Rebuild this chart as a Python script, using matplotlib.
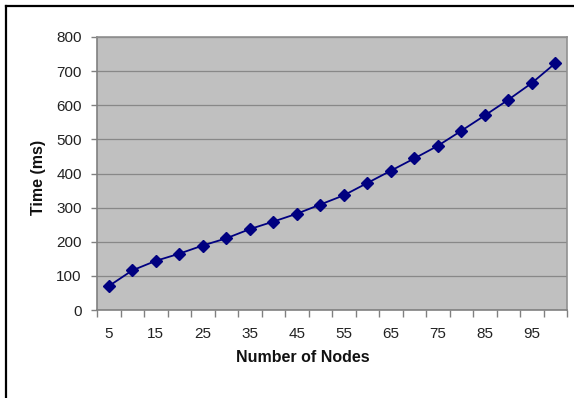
import numpy as np
import matplotlib.pyplot as plt
from matplotlib.lines import Line2D

plt.rcParams['font.family'] = ['Liberation Sans', 'DejaVu Sans']

nodes = [5, 10, 15, 20, 25, 30, 35, 40, 45, 50, 55, 60, 65, 70, 75, 80, 85, 90, 95, 100]
time_ms = [70, 116, 144, 165, 189, 210, 237, 259, 282, 309, 336, 372, 408, 444, 481,
           525, 570, 616, 665, 723]
y_ticks = [0, 100, 200, 300, 400, 500, 600, 700, 800]

W, H = 574, 398
fig = plt.figure(figsize=(W / 100, H / 100), dpi=100)
ax = fig.add_axes([97 / W, 1 - 310 / H, (567 - 97) / W, (310 - 37) / H])

pos = np.arange(len(nodes))
ax.set_facecolor('#c0c0c0')
ax.plot(pos, time_ms, color='#000080', linewidth=1.3, marker='D', markersize=6,
        markerfacecolor='#000080', markeredgecolor='#000080', zorder=3)

ax.set_xlim(-0.5, len(nodes) - 0.5)
ax.set_ylim(0, 800)
ax.set_yticks(y_ticks)
ax.yaxis.grid(True, color='#888888', linewidth=0.9)
ax.set_axisbelow(True)

# category axis: tick marks between categories, label every other one
ax.set_xticks(np.arange(-0.5, len(nodes)), minor=True)
ax.set_xticks(pos[::2])
ax.set_xticklabels([str(n) for n in nodes[::2]])
ax.tick_params(axis='x', which='major', length=0, pad=12, labelsize=11,
               labelcolor='#222222')
ax.tick_params(axis='x', which='minor', length=5, color='#808080', width=1)
ax.tick_params(axis='y', length=4, color='#808080', width=1, pad=7, labelsize=11,
               labelcolor='#222222')

for side in ['top', 'right']:
    ax.spines[side].set_color('#909090')
    ax.spines[side].set_linewidth(1.2)
for side in ['left', 'bottom']:
    ax.spines[side].set_color('#808080')
    ax.spines[side].set_linewidth(1.2)

fig.text(303 / W, 1 - 357 / H, 'Number of Nodes', ha='center', va='center',
         fontsize=11.5, fontweight='bold', color='#111111')
fig.text(38 / W, 1 - 177 / H, 'Time (ms)', ha='center', va='center',
         rotation=90, fontsize=11.5, fontweight='bold', color='#111111')

# outer chart frame (top and left edges)
fig.add_artist(Line2D([5.5 / W, 1], [1 - 6 / H, 1 - 6 / H], color='black',
                      linewidth=1.6, transform=fig.transFigure))
fig.add_artist(Line2D([5.5 / W, 5.5 / W], [0, 1 - 6 / H], color='black',
                      linewidth=1.6, transform=fig.transFigure))

fig.savefig('out.png', dpi=100)
plt.close(fig)
